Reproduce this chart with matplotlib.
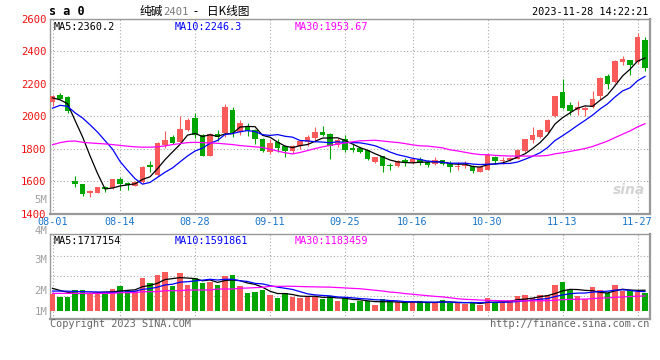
import numpy as np
import matplotlib
matplotlib.use('Agg')
import matplotlib.pyplot as plt

# daily OHLC, 2023-08-01 .. 2023-11-28 (80 trading days)
opens = [2090, 2130, 2122, 1600, 1582, 1526, 1530, 1562, 1558, 1614,
         1590, 1572, 1598, 1702, 1640, 1822, 1870, 1840, 1914, 1992,
         1885, 1756, 1890, 1897, 2040, 1902, 1933, 1916, 1862, 1780,
         1840, 1815, 1784, 1820, 1840, 1866, 1906, 1891, 1822, 1858,
         1806, 1808, 1790, 1716, 1753, 1700, 1691, 1732, 1720, 1738,
         1720, 1706, 1728, 1712, 1688, 1692, 1693, 1657, 1672, 1750,
         1726, 1729, 1740, 1785, 1853, 1873, 1902, 2000, 2147, 2071,
         2037, 2042, 2057, 2128, 2249, 2210, 2338, 2345, 2332, 2473]
highs = [2130, 2146, 2124, 1630, 1585, 1548, 1567, 1570, 1616, 1628,
         1598, 1600, 1695, 1722, 1840, 1910, 1885, 2004, 1990, 2022,
         1890, 1900, 1916, 2078, 2060, 1980, 1958, 1920, 1866, 1862,
         1860, 1820, 1822, 1856, 1882, 1935, 1942, 1895, 1866, 1887,
         1830, 1812, 1795, 1752, 1758, 1714, 1728, 1744, 1745, 1748,
         1728, 1748, 1732, 1725, 1718, 1722, 1700, 1692, 1773, 1758,
         1750, 1750, 1800, 1862, 1936, 1922, 1984, 2128, 2230, 2086,
         2096, 2065, 2157, 2243, 2260, 2347, 2369, 2350, 2514, 2488]
lows = [2063, 2104, 2022, 1565, 1512, 1505, 1528, 1535, 1555, 1546,
        1546, 1568, 1590, 1660, 1635, 1806, 1828, 1836, 1908, 1865,
        1754, 1754, 1850, 1875, 1870, 1882, 1876, 1830, 1780, 1770,
        1783, 1747, 1776, 1800, 1815, 1840, 1876, 1740, 1813, 1780,
        1780, 1772, 1731, 1712, 1660, 1672, 1686, 1692, 1706, 1698,
        1688, 1698, 1702, 1657, 1672, 1680, 1651, 1655, 1668, 1704,
        1706, 1724, 1736, 1783, 1836, 1865, 1898, 1995, 2045, 2010,
        2008, 2004, 2053, 2106, 2167, 2204, 2318, 2255, 2324, 2278]
closes = [2126, 2110, 2030, 1582, 1522, 1541, 1565, 1552, 1612, 1584,
          1575, 1597, 1690, 1690, 1835, 1853, 1835, 1922, 1977, 1888,
          1756, 1890, 1870, 2055, 1897, 1957, 1910, 1863, 1788, 1838,
          1808, 1787, 1815, 1848, 1874, 1906, 1887, 1819, 1854, 1792,
          1795, 1778, 1737, 1747, 1696, 1696, 1722, 1716, 1738, 1714,
          1702, 1733, 1706, 1688, 1697, 1702, 1662, 1688, 1760, 1724,
          1730, 1742, 1790, 1859, 1884, 1915, 1980, 2126, 2053, 2033,
          2059, 2052, 2110, 2239, 2202, 2341, 2351, 2318, 2488, 2298]
volumes = [1377000, 1185000, 1185000, 1736000, 1736000, 1460000, 1460000, 1460000, 1818000, 2066000,
           1736000, 1680000, 2755000, 2342000, 2975000, 3251000, 2066000, 3168000, 2149000, 2755000,
           2342000, 2424000, 2149000, 2920000, 2975000, 2066000, 1460000, 1598000, 1736000, 1322000,
           1102000, 1460000, 1185000, 1102000, 1185000, 1185000, 992000, 1240000, 826000, 1047000,
           689000, 826000, 826000, 496000, 992000, 716000, 716000, 634000, 716000, 826000,
           634000, 716000, 909000, 634000, 634000, 551000, 771000, 496000, 1102000, 716000,
           716000, 909000, 1267000, 1322000, 1102000, 1322000, 1322000, 2149000, 2424000, 1736000,
           1240000, 992000, 2011000, 1736000, 1460000, 2149000, 1653000, 1680000, 1598000, 1515000]

# moving-average values before the window is full
ma5_head = [2114, 2102, 2078, 1975]
ma10_head = [2050, 2068, 2062, 2022, 1990, 1948, 1903, 1850, 1798]
ma30_head = [1825, 1838, 1846, 1848, 1840, 1836, 1833, 1830, 1826, 1821,
             1816, 1812, 1810, 1810, 1812, 1818, 1826, 1832, 1838, 1840,
             1838, 1836, 1834, 1830, 1826, 1820, 1816, 1812, 1808]
vma5_head = [1873000, 1700000, 1550000, 1450000]
vma10_head = [1650000, 1650000, 1640000, 1620000, 1600000, 1590000, 1570000, 1550000, 1540000]
vma30_head = [1460000] * 9 + [1515000] * 3 + [1598000] * 3 + [1680000] * 3 + \
             [1736000] * 4 + [1818000] * 3 + [1880000, 1900000, 1930000, 1960000]

tick_idx = [0, 9, 19, 29, 39, 48, 58, 68, 78]
tick_lbl = ['08-01', '08-14', '08-28', '09-11', '09-25', '10-16', '10-30', '11-13', '11-27']

RED = '#f95a5a'
GREEN = '#00a600'
GRID = '#aaaaaa'
BORDER = '#999999'
MONO = 'DejaVu Sans Mono'
CJK = ['Noto Sans CJK SC', 'DejaVu Sans']


def moving_avg(vals, n, head):
    out = []
    for i in range(len(vals)):
        if i >= n - 1:
            out.append(np.mean(vals[i - n + 1:i + 1]))
        else:
            out.append(head[i])
    return out


W, H = 660, 360


def box(l, t, r, b):
    return [l / W, 1 - b / H, (r - l) / W, (b - t) / H]


def px(x, y):
    return x / W, 1 - y / H


o = np.array(opens)
c = np.array(closes)
x = np.arange(len(opens))
up = c >= o
cols = [RED if u else GREEN for u in up]

fig = plt.figure(figsize=(6.6, 3.6), dpi=100)
ax = fig.add_axes(box(50.5, 19, 649.5, 213.7))
axv = fig.add_axes(box(50.5, 234.3, 649.5, 319))

# ---- price panel
ax.vlines(x, lows, highs, colors=cols, lw=0.8, zorder=2)
body = np.maximum(np.abs(c - o), 3)
ax.bar(x, body, bottom=np.minimum(o, c), width=0.72, color=cols, lw=0, zorder=3)
ax.plot(x, moving_avg(closes, 5, ma5_head), color='black', lw=0.9, zorder=4)
ax.plot(x, moving_avg(closes, 10, ma10_head), color='#0000ff', lw=0.9, zorder=4)
ax.plot(x, moving_avg(closes, 30, ma30_head), color='#ff00ff', lw=0.9, zorder=4)

ax.set_xlim(-0.27, 79.6)
ax.set_ylim(1400, 2600)
ax.set_xticks(tick_idx, tick_lbl)
ax.set_yticks(range(1400, 2601, 200))
ax.tick_params(axis='x', length=0, pad=2.5, labelcolor='#1a75c9', labelsize=7.3)
ax.tick_params(axis='y', length=0, pad=3, labelcolor='#ee1111', labelsize=7.6)
for lab in ax.get_xticklabels() + ax.get_yticklabels():
    lab.set_family(MONO)

ax.text(0.006, 0.985, 'MA5:2360.2', transform=ax.transAxes, va='top', ha='left',
        family=MONO, fontsize=7.3, color='black')
ax.text(0.207, 0.985, 'MA10:2246.3', transform=ax.transAxes, va='top', ha='left',
        family=MONO, fontsize=7.3, color='#0000ff')
ax.text(0.408, 0.985, 'MA30:1953.67', transform=ax.transAxes, va='top', ha='left',
        family=MONO, fontsize=7.3, color='#ff00ff')
ax.text(0.965, 0.12, 'sina', transform=ax.transAxes, ha='center', va='center',
        fontsize=10, fontweight='bold', fontstyle='italic', color='#d4d4d4', zorder=1)

# ---- volume panel
axv.bar(x, volumes, width=0.75, color=cols, lw=0, zorder=3)
axv.plot(x, moving_avg(volumes, 5, vma5_head), color='black', lw=0.9, zorder=4)
axv.plot(x, moving_avg(volumes, 10, vma10_head), color='#0000ff', lw=0.9, zorder=4)
axv.plot(x, moving_avg(volumes, 30, vma30_head), color='#ff00ff', lw=0.9, zorder=4)
axv.set_xlim(-0.27, 79.6)
axv.set_ylim(-0.66e6, 6.34e6)
axv.set_xticks(tick_idx, [''] * len(tick_idx))
axv.set_yticks([1.27e6, 2.92e6, 4.57e6], ['', '', ''])
axv.tick_params(length=0)

axv.text(0.006, 0.985, 'MA5:1717154', transform=axv.transAxes, va='top', ha='left',
         family=MONO, fontsize=7.3, color='black')
axv.text(0.207, 0.985, 'MA10:1591861', transform=axv.transAxes, va='top', ha='left',
         family=MONO, fontsize=7.3, color='#0000ff')
axv.text(0.408, 0.985, 'MA30:1183459', transform=axv.transAxes, va='top', ha='left',
         family=MONO, fontsize=7.3, color='#ff00ff')

for a in (ax, axv):
    a.grid(True, ls=(0, (1, 2)), color=GRID, lw=0.8, zorder=0)
    a.set_axisbelow(True)
    for side in ('left', 'top'):
        a.spines[side].set_color(BORDER)
        a.spines[side].set_linewidth(1.0)
    for side in ('right', 'bottom'):
        a.spines[side].set_color(BORDER)
        a.spines[side].set_linewidth(1.6)

# volume scale labels as drawn on the original
for lbl, yy in [('5M', 200), ('4M', 231), ('3M', 260), ('2M', 291), ('1M', 312)]:
    fig.text(*px(47, yy), lbl, ha='right', va='center', family=MONO,
             fontsize=7.6, color='#a0a0a0')

# ---- header and footer
fig.text(*px(49, 11.5), 's a 0', ha='left', va='center', family=MONO,
         fontsize=8.5, fontweight='bold', color='black')
fig.text(*px(140, 11.5), '纯碱', ha='left', va='center', family=CJK,
         fontsize=8.4, color='black')
fig.text(*px(163.5, 12), '2401', ha='left', va='center', family=MONO,
         fontsize=7.6, color='#777777')
fig.text(*px(193, 11.5), '-', ha='left', va='center', family=CJK,
         fontsize=8.4, color='black')
fig.text(*px(207, 11.5), '日K线图', ha='left', va='center', family=CJK,
         fontsize=8.4, color='black')
fig.text(*px(648, 12), '2023-11-28 14:22:21', ha='right', va='center', family=MONO,
         fontsize=7.4, color='black')
fig.text(*px(50, 324), 'Copyright 2023 SINA.COM', ha='left', va='center', family=MONO,
         fontsize=7.4, color='#666666')
fig.text(*px(649, 324), 'http://finance.sina.com.cn', ha='right', va='center', family=MONO,
         fontsize=7.4, color='#666666')

fig.savefig('out.png', dpi=100, facecolor='white')
